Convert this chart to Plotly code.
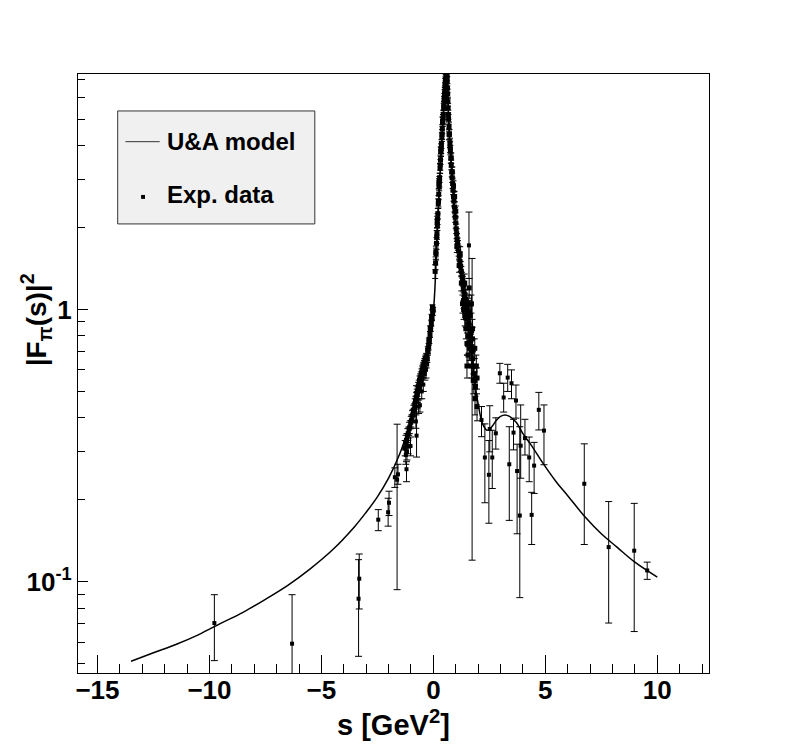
import numpy as np
import plotly.graph_objects as go

# U&A model curve
model_s = [-13.5, -12.5, -11.5, -10.5, -9.5, -8.5, -7.5, -6.5, -5.5, -4.5, -3.5, -3.0, -2.5, -2.0,
           -1.5, -1.0, -0.6, -0.3, 0.0, 0.15, 0.3, 0.42, 0.5, 0.55, 0.59, 0.63, 0.68, 0.75, 0.85,
           1.0, 1.2, 1.4, 1.6, 1.8, 2.0, 2.2, 2.4, 2.6, 2.8, 3.0, 3.2, 3.4, 3.7, 4.0, 4.4, 4.9,
           5.5, 6.0, 6.8, 7.5, 8.2, 9.0, 10.0]
model_f2 = [0.051, 0.0548, 0.0588, 0.0638, 0.0703, 0.0772, 0.0862, 0.097, 0.1115, 0.131, 0.16, 0.18,
            0.205, 0.24, 0.295, 0.39, 0.5, 0.64, 0.98, 1.7, 3.1, 4.7, 6.2, 7.3, 7.9, 7.3, 5.2,
            4.0, 2.9, 2.0, 1.4, 1.07, 0.8, 0.58, 0.45, 0.38, 0.36, 0.37, 0.39, 0.405, 0.41,
            0.405, 0.385, 0.35, 0.315, 0.272, 0.232, 0.207, 0.172, 0.15, 0.134, 0.118, 0.104]

# spacelike points with visible error bars
sl_s = [-9.78, -6.31, -3.31, -3.34, -2.46, -2.02, -1.98, -1.72, -1.62, -1.58, -1.23, -1.20,
        -1.18, -1.13, -1.02, -0.78, -0.75, -0.72, -0.66, -0.60, -0.52, -0.45, -0.38, -0.33]
sl_f2 = [0.0705, 0.0592, 0.1026, 0.0866, 0.169, 0.180, 0.195, 0.242, 0.237, 0.248, 0.292, 0.259,
         0.30, 0.314, 0.315, 0.388, 0.344, 0.479, 0.44, 0.445, 0.50, 0.53, 0.58, 0.60]
sl_hi = [0.0896, 0.0896, 0.1264, 0.1205, 0.184, 0.2026, 0.215, 0.262, 0.379, 0.27, 0.315, 0.276,
         0.32, 0.335, 0.34, 0.41, 0.525, 0.50, 0.465, 0.47, 0.53, 0.56, 0.61, 0.64]
sl_lo = [0.0513, 0.03, 0.0794, 0.0532, 0.154, 0.16, 0.175, 0.222, 0.0935, 0.228, 0.27, 0.233,
         0.28, 0.295, 0.29, 0.366, 0.287, 0.455, 0.415, 0.42, 0.47, 0.50, 0.55, 0.56]

# dense spacelike band below s = 0
sb_s = [-1.28, -1.24, -1.2, -1.16, -1.12, -1.08, -1.05, -1.01, -0.98, -0.95, -0.92, -0.89, -0.86,
        -0.83, -0.8, -0.77, -0.74, -0.71, -0.68, -0.65, -0.62, -0.59, -0.56, -0.53, -0.5, -0.47,
        -0.45, -0.42, -0.4, -0.37, -0.35, -0.32]
sb_f2 = [0.31, 0.325, 0.33, 0.345, 0.35, 0.365, 0.37, 0.385, 0.39, 0.405, 0.41, 0.425, 0.43,
         0.45, 0.46, 0.475, 0.49, 0.5, 0.52, 0.53, 0.55, 0.56, 0.57, 0.585, 0.6, 0.61, 0.62,
         0.63, 0.64, 0.65, 0.66, 0.67]
sb_err = [0.02, 0.02, 0.02, 0.02, 0.02, 0.02, 0.02, 0.02, 0.02, 0.02, 0.02, 0.02, 0.02, 0.02,
          0.02, 0.02, 0.02, 0.02, 0.02, 0.02, 0.02, 0.02, 0.02, 0.02, 0.02, 0.02, 0.02, 0.02,
          0.02, 0.02, 0.02, 0.02]

# dense band, rising side of the peak
lb_s = [-0.30, -0.27, -0.24, -0.21, -0.18, -0.15, -0.12, -0.09, -0.06, -0.03, -0.01, 0.08, 0.10,
        0.12, 0.14, 0.16, 0.18, 0.20, 0.22, 0.24, 0.26, 0.28, 0.30, 0.32, 0.34, 0.36, 0.38, 0.40,
        0.42, 0.44, 0.46, 0.48, 0.50, 0.52, 0.54, 0.56, 0.58,
        0.15, 0.19, 0.23, 0.27, 0.31, 0.35, 0.39, 0.43, 0.47, 0.51, 0.55,
        -0.25, -0.2, -0.14, -0.08, -0.04, 0.11, 0.17, 0.25, 0.33, 0.41, 0.49, 0.53]
lb_f2 = [0.63, 0.66, 0.70, 0.73, 0.77, 0.81, 0.85, 0.89, 0.93, 0.97, 1.0, 1.38, 1.48, 1.6, 1.75,
         1.9, 2.05, 2.25, 2.45, 2.65, 2.85, 3.05, 3.3, 3.55, 3.8, 4.05, 4.3, 4.6, 4.9, 5.2, 5.5,
         5.85, 6.2, 6.55, 6.9, 7.2, 7.4,
         1.85, 2.15, 2.5, 2.95, 3.4, 3.9, 4.4, 5.0, 5.6, 6.3, 7.0,
         0.71, 0.76, 0.85, 0.94, 1.02, 1.62, 2.1, 2.9, 3.8, 4.9, 6.0, 6.8]
lb_err = [0.02, 0.02, 0.02, 0.02, 0.02, 0.02, 0.02, 0.02, 0.02, 0.02, 0.02, 0.08, 0.08, 0.08,
          0.09, 0.09, 0.1, 0.1, 0.1, 0.12, 0.12, 0.12, 0.14, 0.14, 0.15, 0.15, 0.16, 0.18, 0.18,
          0.2, 0.2, 0.22, 0.22, 0.25, 0.25, 0.28, 0.3,
          0.1, 0.1, 0.12, 0.13, 0.15, 0.16, 0.18, 0.2, 0.22, 0.25, 0.28,
          0.02, 0.02, 0.02, 0.02, 0.02, 0.09, 0.1, 0.12, 0.15, 0.2, 0.22, 0.25]

# dense band, falling side of the peak
rb_s = [0.60, 0.61, 0.62, 0.63, 0.64, 0.65, 0.66, 0.67, 0.68, 0.70, 0.72, 0.74, 0.76, 0.78, 0.80,
        0.82, 0.84, 0.86, 0.88, 0.90, 0.92, 0.94, 0.96, 0.98, 1.00, 1.02, 1.04, 1.06, 1.08, 1.10,
        1.13, 1.16, 1.19, 1.22, 1.25, 1.28, 1.31, 1.34, 1.37, 1.40, 1.43, 1.46, 1.49, 1.52, 1.55,
        1.58, 1.61, 1.64, 1.67, 1.70, 1.73, 1.76, 1.79, 1.82, 1.85, 1.88,
        1.05, 1.15, 1.25, 1.35, 1.45, 1.55, 1.62, 1.70, 1.78, 1.86, 1.95, 1.2, 1.4, 1.6, 1.75,
        1.3, 1.4, 1.45, 1.5, 1.55, 1.5, 1.35, 1.55, 1.65, 1.75, 1.85, 1.92, 1.95, 1.7, 1.6,
        0.7, 0.75, 0.8, 0.85, 0.9, 0.95, 1.0]
rb_f2 = [7.4, 7.2, 6.9, 6.5, 6.2, 5.8, 5.5, 5.2, 5.0, 4.7, 4.4, 4.1, 3.85, 3.6, 3.4, 3.2, 3.05,
         2.9, 2.75, 2.6, 2.5, 2.38, 2.28, 2.18, 2.08, 1.98, 1.9, 1.82, 1.76, 1.72, 1.64, 1.57,
         1.5, 1.44, 1.38, 1.32, 1.27, 1.22, 1.17, 1.13, 1.09, 1.05, 1.01, 0.97, 0.93, 0.89, 0.85,
         0.81, 0.77, 0.73, 0.7, 0.66, 0.62, 0.58, 0.55, 0.52,
         1.7, 1.45, 1.25, 1.08, 0.93, 0.8, 0.72, 0.62, 0.55, 0.47, 0.44, 1.6, 1.25, 0.98, 0.78,
         1.05, 0.95, 0.85, 0.75, 0.68, 0.62, 1.0, 1.05, 0.95, 0.85, 0.72, 0.62, 0.56, 1.05, 1.2,
         4.4, 3.95, 3.6, 3.2, 2.85, 2.6, 2.3]
rb_err = [0.3, 0.28, 0.28, 0.25, 0.25, 0.22, 0.22, 0.2, 0.2, 0.18, 0.18, 0.16, 0.15, 0.15, 0.14,
          0.13, 0.12, 0.12, 0.11, 0.1, 0.1, 0.1, 0.09, 0.09, 0.09, 0.08, 0.08, 0.08, 0.07, 0.07,
          0.07, 0.06, 0.06, 0.06, 0.06, 0.05, 0.05, 0.05, 0.05, 0.05, 0.05, 0.04, 0.04, 0.04, 0.04,
          0.04, 0.04, 0.04, 0.04, 0.04, 0.04, 0.04, 0.04, 0.04, 0.04, 0.04,
          0.08, 0.08, 0.08, 0.07, 0.07, 0.07, 0.07, 0.06, 0.06, 0.06, 0.05, 0.1, 0.1, 0.1, 0.08,
          0.08, 0.08, 0.07, 0.07, 0.06, 0.06, 0.08, 0.08, 0.08, 0.07, 0.06, 0.06, 0.05, 0.08, 0.1,
          0.2, 0.18, 0.16, 0.14, 0.12, 0.11, 0.1]

# timelike points above the peak, with error bars
tl_s = [1.59, 1.73, 2.15, 2.52, 2.30, 2.48, 2.63, 2.79, 2.97, 3.14, 3.32, 3.49, 3.69, 3.39,
        3.58, 3.74, 3.90, 3.86, 4.09, 4.28, 4.50, 4.39, 4.71, 4.94, 6.74, 7.83, 8.97, 9.55]
tl_f2 = [1.72, 0.83, 0.393, 0.364, 0.286, 0.247, 0.286, 0.351, 0.583, 0.475, 0.562, 0.536, 0.463,
         0.270, 0.353, 0.255, 0.316, 0.175, 0.337, 0.286, 0.267, 0.176, 0.428, 0.359, 0.229,
         0.134, 0.130, 0.110]
tl_hi = [2.28, 1.54, 0.44, 0.443, 0.38, 0.33, 0.36, 0.40, 0.634, 0.536, 0.629, 0.60, 0.528, 0.371,
         0.395, 0.32, 0.446, 0.371, 0.395, 0.34, 0.325, 0.213, 0.496, 0.446, 0.321, 0.197, 0.194,
         0.118]
tl_lo = [1.3, 0.12, 0.341, 0.30, 0.195, 0.164, 0.22, 0.307, 0.536, 0.42, 0.50, 0.47, 0.399, 0.168,
         0.305, 0.15, 0.24, 0.0874, 0.292, 0.233, 0.211, 0.137, 0.361, 0.269, 0.137, 0.0705,
         0.0656, 0.102]

x_ticks = [-15, -10, -5, 0, 5, 10]
y_ticks = [0.1, 1]
y_ticktext = ["10<sup>-1</sup>", "1"]
y_minor = [0.05, 0.06, 0.07, 0.08, 0.09, 0.2, 0.3, 0.4, 0.5, 0.6, 0.7, 0.8, 0.9,
           2, 3, 4, 5, 6, 7]

FONT = "Liberation Sans"
BOLD = dict(family=FONT, color="black", weight="bold")
mk = dict(symbol="square", size=4, color="black")
mk_dense = dict(symbol="square", size=5, color="black")


def errbar(hi, lo, y, w):
    y = np.asarray(y)
    return dict(type="data", symmetric=False, array=np.asarray(hi) - y,
                arrayminus=y - np.asarray(lo), color="black", thickness=1, width=w)


def dense_err(err):
    return dict(type="data", array=err, color="black", thickness=1, width=3)


fig = go.Figure()
fig.add_trace(go.Scatter(x=model_s, y=model_f2, mode="lines", line_shape="spline",
                         line=dict(color="black", width=1.5, smoothing=1.0)))
fig.add_trace(go.Scatter(x=sb_s, y=sb_f2, mode="markers", marker=mk_dense, error_y=dense_err(sb_err)))
fig.add_trace(go.Scatter(x=lb_s, y=lb_f2, mode="markers", marker=mk_dense, error_y=dense_err(lb_err)))
fig.add_trace(go.Scatter(x=rb_s, y=rb_f2, mode="markers", marker=mk_dense, error_y=dense_err(rb_err)))
fig.add_trace(go.Scatter(x=sl_s, y=sl_f2, mode="markers", marker=mk,
                         error_y=errbar(sl_hi, sl_lo, sl_f2, 3.5)))
fig.add_trace(go.Scatter(x=tl_s, y=tl_f2, mode="markers", marker=mk,
                         error_y=errbar(tl_hi, tl_lo, tl_f2, 3.5)))

fig.update_xaxes(range=[-15.87, 12.31], tickmode="array", tickvals=x_ticks,
                 ticks="inside", ticklen=18, tickwidth=1, tickcolor="black",
                 minor=dict(dtick=1, tick0=0, ticks="inside", ticklen=9, tickcolor="black"),
                 showline=True, linecolor="black", linewidth=1.3, mirror=True,
                 showgrid=False, zeroline=False, automargin=False, ticklabelstandoff=-6,
                 tickfont=dict(size=26, **BOLD))
fig.update_yaxes(type="log", range=[np.log10(0.0462), np.log10(7.33)], tickmode="array",
                 tickvals=y_ticks, ticktext=y_ticktext,
                 ticks="inside", ticklen=10, tickwidth=1, tickcolor="black",
                 minor=dict(tickmode="array", tickvals=y_minor, ticks="inside", ticklen=7,
                            tickcolor="black"),
                 showline=True, linecolor="black", linewidth=1.3, mirror=True,
                 showgrid=False, zeroline=False, automargin=False,
                 tickfont=dict(size=26, **BOLD))

# axis titles
fig.add_annotation(text="s [GeV<sup>2</sup>]", xref="paper", yref="paper", x=0.5, y=-0.083,
                   xanchor="center", yanchor="middle", showarrow=False, font=dict(size=29, **BOLD))
fig.add_annotation(text="|F<sub>π</sub>(s)|<sup>2</sup>", xref="paper", yref="paper",
                   x=-0.067, y=0.59, xanchor="center", yanchor="middle", textangle=-90,
                   showarrow=False, font=dict(size=28, **BOLD))

# legend box drawn by hand (ROOT style)
fig.add_shape(type="rect", xref="paper", yref="paper", x0=0.0629, x1=0.3753, y0=0.7497,
              y1=0.9383, fillcolor="#f0f0f0", line=dict(color="#333333", width=1))
fig.add_shape(type="line", xref="paper", yref="paper", x0=0.0752, x1=0.1295, y0=0.887,
              y1=0.887, line=dict(color="#333333", width=1))
fig.add_shape(type="rect", xref="paper", yref="paper", x0=0.1000, x1=0.1062, y0=0.7915,
              y1=0.7981, fillcolor="black", line=dict(width=0))
fig.add_annotation(text="U&A model", xref="paper", yref="paper", x=0.1377, y=0.887,
                   xanchor="left", yanchor="middle", showarrow=False, font=dict(size=24, **BOLD))
fig.add_annotation(text="Exp. data", xref="paper", yref="paper", x=0.1377, y=0.7984,
                   xanchor="left", yanchor="middle", showarrow=False, font=dict(size=24, **BOLD))

# the page body adds an 8px offset, so the margins absorb it
fig.update_layout(width=788, height=749, autosize=False, showlegend=False,
                  margin=dict(l=70, r=87, t=66, b=84),
                  paper_bgcolor="white", plot_bgcolor="white")
fig.write_html("out.html")
